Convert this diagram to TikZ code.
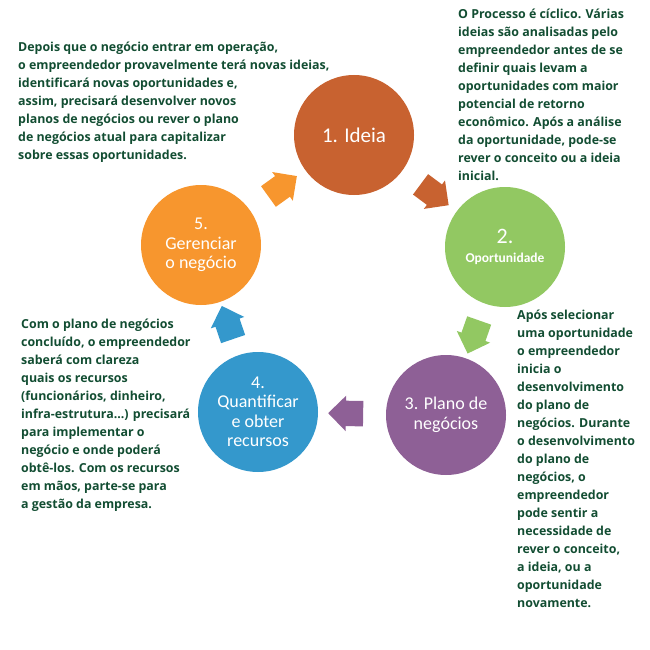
\documentclass[tikz,border=0pt]{standalone}
\usepackage{fontspec}
\setmainfont{Open Sans}
\newfontfamily\circfont{Carlito}
\usetikzlibrary{shapes.arrows}
\definecolor{cor1}{RGB}{200,98,48}
\definecolor{cor2}{RGB}{146,200,98}
\definecolor{cor3}{RGB}{142,96,150}
\definecolor{cor4}{RGB}{52,152,204}
\definecolor{cor5}{RGB}{247,150,46}
\definecolor{texto}{RGB}{18,77,50}

\begin{document}
\begin{tikzpicture}[x=1pt,y=-1pt,
	etapa/.style={circle, minimum size=120pt, inner sep=0,
		text=white, align=center,
		font=\circfont\fontsize{18}{19.5}\selectfont},
	seta/.style={single arrow, minimum height=35pt,
		single arrow head extend=5pt, inner xsep=0, inner ysep=12.5pt,
		sloped, allow upside down},
	nota/.style={anchor=north west, inner sep=0, align=left,
		text=texto, font=\bfseries\fontsize{12.4}{18}\selectfont}]
	
	\useasboundingbox (0,0) rectangle (650,650);
	
	\node[etapa,fill=cor1,font=\circfont\fontsize{21}{21}\selectfont] (c1) at (354,135) {1. Ideia};
	\node[etapa,fill=cor2] (c2) at (505,247)
		{\fontsize{22}{16}\selectfont 2.\\\bfseries\fontsize{13.5}{16}\selectfont Oportunidade};
	\node[etapa,fill=cor3] (c3) at (446,415) {3. Plano de\\negócios};
	\node[etapa,fill=cor4] (c4) at (258,412) {4.\\Quantificar\\e obter\\recursos};
	\node[etapa,fill=cor5] (c5) at (201,245) {5.\\Gerenciar\\o negócio};
	
	\foreach \a/\b/\c in {c1/c2/cor1,c2/c3/cor2,c3/c4/cor3,c4/c5/cor4,c5/c1/cor5}{%
		\path (\a) -- node[seta,fill=\c]{} (\b);}
	
	\node[nota] (n1) at (18,42) {Depois que o negócio entrar em operação,\\o empreendedor provavelmente terá novas ideias,\\identificará novas oportunidades e,\\assim, precisará desenvolver novos\\planos de negócios ou rever o plano\\de negócios atual para capitalizar\\sobre essas oportunidades.};
	\node[nota] (n2) at (458,9) {O Processo é cíclico. Várias\\ideias são analisadas pelo\\empreendedor antes de se\\definir quais levam a\\oportunidades com maior\\potencial de retorno\\econômico. Após a análise\\da oportunidade, pode-se\\rever o conceito ou a ideia\\inicial.};
	\node[nota] (n3) at (21,319) {Com o plano de negócios\\concluído, o empreendedor\\saberá com clareza\\quais os recursos\\(funcionários, dinheiro,\\infra-estrutura...) precisará\\para implementar o\\negócio e onde poderá\\obtê-los. Com os recursos\\em mãos, parte-se para\\a gestão da empresa.};
	\node[nota] (n4) at (517,310) {Após selecionar\\uma oportunidade\\o empreendedor\\inicia o\\desenvolvimento\\do plano de\\negócios. Durante\\o desenvolvimento\\do plano de\\negócios, o\\empreendedor\\pode sentir a\\necessidade de\\rever o conceito,\\a ideia, ou a\\oportunidade\\novamente.};
\end{tikzpicture}
\end{document}
